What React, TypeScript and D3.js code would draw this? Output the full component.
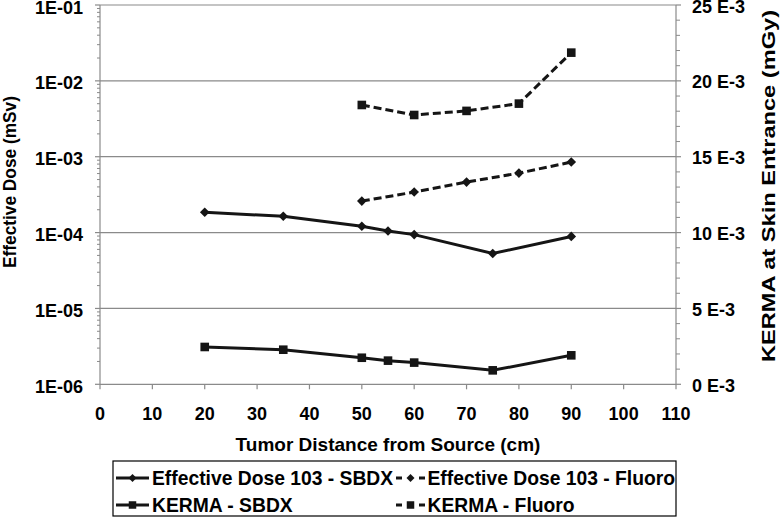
import React from "react";
import * as d3 from "d3";

const xTicks = [0, 10, 20, 30, 40, 50, 60, 70, 80, 90, 100, 110];
const leftTicks = [1e-6, 1e-5, 1e-4, 1e-3, 1e-2, 1e-1];
const leftTickLabels = ["1E-06", "1E-05", "1E-04", "1E-03", "1E-02", "1E-01"];
const rightTicks = [0, 5, 10, 15, 20, 25];

const distSBDX = [20, 35, 50, 55, 60, 75, 90];
const edSBDX = [1.85e-4, 1.64e-4, 1.21e-4, 1.05e-4, 0.94e-4, 0.53e-4, 0.89e-4];
const kermaSBDX = [2.46, 2.28, 1.75, 1.56, 1.43, 0.92, 1.91];

const distFluoro = [50, 60, 70, 80, 90];
const edFluoro = [2.6e-4, 3.42e-4, 4.63e-4, 6.08e-4, 8.5e-4];
const kermaFluoro = [18.41, 17.75, 18.02, 18.5, 21.86];

const legendLabels = [
  "Effective Dose 103 - SBDX",
  "Effective Dose 103 - Fluoro",
  "KERMA - SBDX",
  "KERMA - Fluoro",
];

const W = 780;
const H = 517;
const X0 = 100;
const X1 = 676;
const YT = 5;
const YB = 384.3;
const INK = "#151515";
const GRID = "#8a8a8a";
const FONT = "'Liberation Sans', Arial, sans-serif";

function Diamond({ x, y, r = 4.8 }: { x: number; y: number; r?: number }) {
  return (
    <path
      d={`M${x},${y - r}L${x + r},${y}L${x},${y + r}L${x - r},${y}Z`}
      fill={INK}
    />
  );
}
function Square({ x, y, s = 8.6 }: { x: number; y: number; s?: number }) {
  return <rect x={x - s / 2} y={y - s / 2} width={s} height={s} fill={INK} />;
}

export default function App() {
  const x = d3.scaleLinear().domain([0, 110]).range([X0, X1]);
  const yL = d3.scaleLog().domain([1e-6, 1e-1]).range([YB, YT]);
  const yR = d3.scaleLinear().domain([0, 25]).range([YB, YT]);

  const lineL = d3
    .line<[number, number]>()
    .x((d) => x(d[0]))
    .y((d) => yL(d[1]));
  const lineR = d3
    .line<[number, number]>()
    .x((d) => x(d[0]))
    .y((d) => yR(d[1]));

  const edS = distSBDX.map((d, i) => [d, edSBDX[i]] as [number, number]);
  const kS = distSBDX.map((d, i) => [d, kermaSBDX[i]] as [number, number]);
  const edF = distFluoro.map((d, i) => [d, edFluoro[i]] as [number, number]);
  const kF = distFluoro.map((d, i) => [d, kermaFluoro[i]] as [number, number]);

  const minor: number[] = [];
  for (let e = -6; e < -1; e++) {
    for (let m = 2; m <= 9; m++) minor.push(m * Math.pow(10, e));
  }
  const rMinor = d3.range(0, 26, 1).filter((v) => v % 5 !== 0);

  const c1Sym = [116, 149];
  const c1Text = 152;
  const c2Sym = [396, 425];
  const c2Text = 427.5;
  const row1 = 478;
  const row2 = 505;
  const LF = 19.3;

  return (
    <svg
      width={W}
      height={H}
      style={{ position: "absolute", left: 0, top: 0, background: "#fff" }}
      fontFamily={FONT}
      fontWeight="bold"
    >
      {leftTicks.map((t, i) => (
        <line key={"g" + i} x1={X0} x2={X1} y1={yL(t)} y2={yL(t)} stroke={GRID} strokeWidth={1.2} />
      ))}
      <line x1={X0} x2={X0} y1={YT} y2={YB} stroke={GRID} strokeWidth={1.2} />
      <line x1={X1} x2={X1} y1={YT} y2={YB} stroke={GRID} strokeWidth={1.2} />
      {leftTicks.map((t, i) => (
        <line key={"lt" + i} x1={X0 - 5} x2={X0} y1={yL(t)} y2={yL(t)} stroke={GRID} strokeWidth={1.2} />
      ))}
      {minor.map((t, i) => (
        <line key={"lm" + i} x1={X0 - 3} x2={X0} y1={yL(t)} y2={yL(t)} stroke={GRID} strokeWidth={1} />
      ))}
      {rightTicks.map((t, i) => (
        <line key={"rt" + i} x1={X1} x2={X1 + 5} y1={yR(t)} y2={yR(t)} stroke={GRID} strokeWidth={1.2} />
      ))}
      {rMinor.map((t, i) => (
        <line key={"rm" + i} x1={X1} x2={X1 + 4} y1={yR(t)} y2={yR(t)} stroke={GRID} strokeWidth={1} />
      ))}
      {xTicks.map((t, i) => (
        <line key={"xt" + i} x1={x(t)} x2={x(t)} y1={YB} y2={YB + 5} stroke={GRID} strokeWidth={1.2} />
      ))}

      {leftTicks.map((t, i) => (
        <text key={"ll" + i} x={83} y={yL(t) + 8.5} textAnchor="end" fontSize={18} fill="#000">
          {leftTickLabels[i]}
        </text>
      ))}
      {rightTicks.map((t, i) => (
        <text key={"rl" + i} x={692} y={yR(t) + 7.5} textAnchor="start" fontSize={18} fill="#000">
          {`${t} E-3`}
        </text>
      ))}
      {xTicks.map((t, i) => (
        <text key={"xl" + i} x={x(t)} y={420} textAnchor="middle" fontSize={18} fill="#000">
          {t}
        </text>
      ))}

      <text
        transform="translate(15.5,182) rotate(-90)"
        textAnchor="middle"
        fontSize={18.5}
        textLength={172}
        lengthAdjust="spacingAndGlyphs"
        fill="#000"
      >
        Effective Dose (mSv)
      </text>
      <text
        transform="translate(775,186) rotate(-90)"
        textAnchor="middle"
        fontSize={18.5}
        textLength={352}
        lengthAdjust="spacingAndGlyphs"
        fill="#000"
      >
        KERMA at Skin Entrance (mGy)
      </text>
      <text x={388} y={451} textAnchor="middle" fontSize={19} fill="#000">
        Tumor Distance from Source (cm)
      </text>

      <path d={lineL(edS) || ""} fill="none" stroke={INK} strokeWidth={3} />
      <path d={lineR(kS) || ""} fill="none" stroke={INK} strokeWidth={3} />
      <path d={lineL(edF) || ""} fill="none" stroke={INK} strokeWidth={3} strokeDasharray="8,4" />
      <path d={lineR(kF) || ""} fill="none" stroke={INK} strokeWidth={3} strokeDasharray="8,4" />
      {edS.map((d, i) => (
        <Diamond key={"d1" + i} x={x(d[0])} y={yL(d[1])} />
      ))}
      {edF.map((d, i) => (
        <Diamond key={"d2" + i} x={x(d[0])} y={yL(d[1])} />
      ))}
      {kS.map((d, i) => (
        <Square key={"s1" + i} x={x(d[0])} y={yR(d[1])} />
      ))}
      {kF.map((d, i) => (
        <Square key={"s2" + i} x={x(d[0])} y={yR(d[1])} />
      ))}

      <rect x={113} y={461} width={563} height={55} fill="#fff" stroke="#000" strokeWidth={1.2} />
      <line x1={c1Sym[0]} x2={c1Sym[1]} y1={row1} y2={row1} stroke={INK} strokeWidth={3} />
      <Diamond x={(c1Sym[0] + c1Sym[1]) / 2} y={row1} r={4} />
      <text x={c1Text} y={row1 + 7} fontSize={LF} fill="#000">{legendLabels[0]}</text>
      <line x1={c1Sym[0]} x2={c1Sym[1]} y1={row2} y2={row2} stroke={INK} strokeWidth={3} />
      <Square x={(c1Sym[0] + c1Sym[1]) / 2} y={row2} s={7.5} />
      <text x={c1Text} y={row2 + 7} fontSize={LF} fill="#000">{legendLabels[2]}</text>
      <line x1={c2Sym[0]} x2={c2Sym[1]} y1={row1} y2={row1} stroke={INK} strokeWidth={3} strokeDasharray="6,17" />
      <Diamond x={(c2Sym[0] + c2Sym[1]) / 2} y={row1} r={4} />
      <text x={c2Text} y={row1 + 7} fontSize={LF} fill="#000">{legendLabels[1]}</text>
      <line x1={c2Sym[0]} x2={c2Sym[1]} y1={row2} y2={row2} stroke={INK} strokeWidth={3} strokeDasharray="6,17" />
      <Square x={(c2Sym[0] + c2Sym[1]) / 2} y={row2} s={7.5} />
      <text x={c2Text} y={row2 + 7} fontSize={LF} fill="#000">{legendLabels[3]}</text>
    </svg>
  );
}
